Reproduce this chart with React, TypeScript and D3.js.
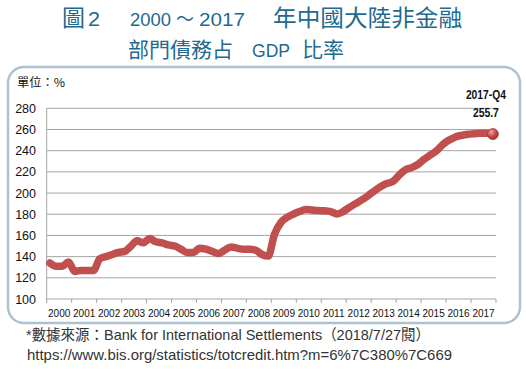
import React, { useEffect, useRef } from "react";
import * as d3 from "d3";

const years: string[] = [
  "2000", "2001", "2002", "2003", "2004", "2005", "2006", "2007", "2008",
  "2009", "2010", "2011", "2012", "2013", "2014", "2015", "2016", "2017",
];

// quarterly ratio (%), 2000-Q1 .. 2017-Q4
const debtRatio: number[] = [
  134, 131, 131, 135,
  126, 127, 127, 127,
  138, 140, 142, 144,
  145, 150, 155, 153,
  157, 154, 153, 151,
  150, 147, 144, 144,
  148, 147, 145, 143,
  146, 149, 148, 147,
  147, 146, 142, 140.5,
  161, 172, 177, 180,
  182.5, 184.5, 184, 183.5,
  183.3, 182.5, 180.3, 182.5,
  186.5, 190, 193.5, 197.5,
  202, 206, 209, 211,
  217, 222, 224, 227,
  232, 236, 240, 246,
  250, 253, 254.5, 255.5,
  256, 256.5, 256.5, 255.7,
];

const yTicks: number[] = [100, 120, 140, 160, 180, 200, 220, 240, 260, 280];
const lastLabel: string[] = ["2017-Q4", "255.7"];

// title pieces: text, x, baseline, font size, forced width, latin?
const titleParts: [string, number, number, number, number, boolean][] = [
  ["圖", 62, 25.5, 23, 23, false],
  ["2", 88, 25.5, 20, 12, true],
  ["2000", 130, 25.5, 19, 41, true],
  ["～", 176, 25.5, 19, 18, false],
  ["2017", 199, 25.5, 19, 46, true],
  ["年中國大陸非金融", 273, 25.5, 23, 189, false],
  ["部門債務占", 128, 56.5, 21, 105, false],
  ["GDP", 252, 56.5, 19, 38, true],
  ["比率", 302, 56.5, 21, 42, false],
];

const App: React.FC = () => {
  const svgRef = useRef<SVGSVGElement>(null);

  useEffect(() => {
    if (!svgRef.current) return;
    const svg = d3.select(svgRef.current);
    svg.selectAll("*").remove();

    const left = 46.7;
    const right = 496;
    const top = 108.3;
    const bottom = 299;

    const x = d3.scaleBand<string>().domain(years).range([left, right]);
    const xq = d3.scaleLinear().domain([0, debtRatio.length]).range([left, right]);
    const y = d3.scaleLinear().domain([100, 280]).range([bottom, top]);

    const defs = svg.append("defs");
    const grad = defs
      .append("radialGradient")
      .attr("id", "dotGrad")
      .attr("cx", "35%")
      .attr("cy", "30%")
      .attr("r", "70%");
    grad.append("stop").attr("offset", "0%").attr("stop-color", "#f3a3a0");
    grad.append("stop").attr("offset", "55%").attr("stop-color", "#c9504c");
    grad.append("stop").attr("offset", "100%").attr("stop-color", "#9c3330");

    // title
    svg
      .append("g")
      .attr("fill", "#22698f")
      .selectAll("text")
      .data(titleParts)
      .join("text")
      .attr("x", (d) => d[1])
      .attr("y", (d) => d[2])
      .style("font-family", (d) =>
        d[5] ? "'Liberation Sans', Arial, sans-serif" : "'Noto Sans CJK TC', sans-serif"
      )
      .style("font-size", (d) => `${d[3]}px`)
      .attr("textLength", (d) => d[4])
      .attr("lengthAdjust", "spacingAndGlyphs")
      .text((d) => d[0]);

    // frame
    svg
      .append("rect")
      .attr("x", 8)
      .attr("y", 67)
      .attr("width", 512)
      .attr("height", 256)
      .attr("rx", 16)
      .attr("fill", "white")
      .attr("stroke", "#adc2d0")
      .attr("stroke-width", 2.5);

    svg
      .append("text")
      .attr("x", 17)
      .attr("y", 87)
      .style("font-family", "'Noto Sans CJK TC', sans-serif")
      .style("font-size", "12px")
      .attr("textLength", 48)
      .attr("lengthAdjust", "spacingAndGlyphs")
      .attr("fill", "#111")
      .text("單位：%");

    // grid
    svg
      .append("g")
      .selectAll("line")
      .data(yTicks.filter((t) => t !== 100))
      .join("line")
      .attr("x1", left)
      .attr("x2", right)
      .attr("y1", (d) => y(d))
      .attr("y2", (d) => y(d))
      .attr("stroke", "#a6a6a6")
      .attr("stroke-width", 1);

    // y axis
    svg
      .append("line")
      .attr("x1", left)
      .attr("x2", left)
      .attr("y1", top)
      .attr("y2", bottom)
      .attr("stroke", "#a6a6a6");

    svg
      .append("g")
      .selectAll("text")
      .data(yTicks)
      .join("text")
      .attr("x", 36)
      .attr("y", (d) => y(d))
      .attr("dy", "0.36em")
      .attr("text-anchor", "end")
      .style("font-family", "'Liberation Sans', Arial, sans-serif")
      .style("font-size", "12.5px")
      .attr("fill", "#111")
      .text((d) => d);

    // x axis
    svg
      .append("line")
      .attr("x1", left)
      .attr("x2", right)
      .attr("y1", bottom)
      .attr("y2", bottom)
      .attr("stroke", "#a6a6a6");

    const boundaries = [...years.map((yr) => x(yr)!), right];
    svg
      .append("g")
      .selectAll("line")
      .data(boundaries)
      .join("line")
      .attr("x1", (d) => d)
      .attr("x2", (d) => d)
      .attr("y1", bottom)
      .attr("y2", bottom + 4)
      .attr("stroke", "#a6a6a6");

    svg
      .append("g")
      .selectAll("text")
      .data(years)
      .join("text")
      .attr("x", (d) => x(d)! + x.bandwidth() / 2)
      .attr("y", 316.5)
      .attr("text-anchor", "middle")
      .style("font-family", "'Liberation Sans', Arial, sans-serif")
      .style("font-size", "10px")
      .attr("fill", "#111")
      .text((d) => d);

    // line
    const line = d3
      .line<number>()
      .x((_, i) => xq(i + 0.5))
      .y((d) => y(d))
      .curve(d3.curveMonotoneX);

    svg
      .append("path")
      .datum(debtRatio)
      .attr("d", line)
      .attr("fill", "none")
      .attr("stroke", "#c0504d")
      .attr("stroke-width", 7.5)
      .attr("stroke-linejoin", "round")
      .attr("stroke-linecap", "round");

    const lastIdx = debtRatio.length - 1;
    const lx = xq(lastIdx + 0.5);
    const ly = y(debtRatio[lastIdx]);
    svg
      .append("circle")
      .attr("cx", lx)
      .attr("cy", ly)
      .attr("r", 5.5)
      .attr("fill", "url(#dotGrad)")
      .attr("stroke", "#a33a37")
      .attr("stroke-width", 0.8);

    svg
      .append("g")
      .selectAll("text")
      .data(lastLabel)
      .join("text")
      .attr("x", lx - 7)
      .attr("y", (_, i) => 99 + i * 18)
      .attr("text-anchor", "middle")
      .style("font-family", "'Liberation Sans', Arial, sans-serif")
      .style("font-size", "13px")
      .style("font-weight", "bold")
      .attr("textLength", (_, i) => (i === 0 ? 40 : 26))
      .attr("lengthAdjust", "spacingAndGlyphs")
      .attr("fill", "#111")
      .text((d) => d);

    // source
    const src = svg
      .append("g")
      .style("font-family", "'Liberation Sans', 'Noto Sans CJK TC', sans-serif")
      .style("font-size", "15px")
      .attr("fill", "#333");
    src
      .append("text")
      .attr("x", 26)
      .attr("y", 340)
      .attr("textLength", 404)
      .attr("lengthAdjust", "spacingAndGlyphs")
      .text("*數據來源：Bank for International Settlements（2018/7/27閱）");
    src
      .append("text")
      .attr("x", 27)
      .attr("y", 360)
      .attr("textLength", 425)
      .attr("lengthAdjust", "spacingAndGlyphs")
      .text("https://www.bis.org/statistics/totcredit.htm?m=6%7C380%7C669");
  }, []);

  return (
    <svg
      ref={svgRef}
      width={526}
      height={370}
      style={{ position: "absolute", left: 0, top: 0, background: "white" }}
    />
  );
};

export default App;
